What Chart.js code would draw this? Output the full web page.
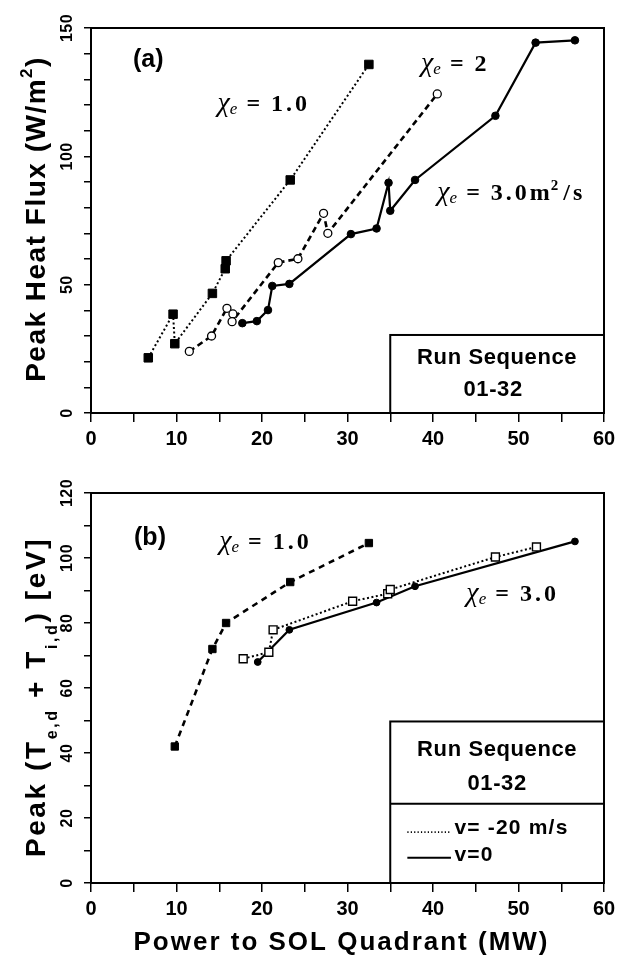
<!DOCTYPE html>
<html lang="en">
<head>
<meta charset="UTF-8">
<title>Peak Heat Flux and Peak Temperature vs Power to SOL Quadrant</title>
<script src="https://cdn.jsdelivr.net/npm/chart.js"></script>
<style>
    body { margin: 0; background: #fff; }
    .panel { position: absolute; left: 0; width: 623px; height: 480px; }
    #panelA { top: 0; }
    #panelB { top: 480px; }
</style>
</head>
<body>
<div class="panel" id="panelA"><canvas id="chartA" width="623" height="480"></canvas></div>
<div class="panel" id="panelB"><canvas id="chartB" width="623" height="480"></canvas></div>

<script>
// ---- panel (a): peak heat flux (W/m2) vs power (MW)
const powerA_chi1 = [6.7, 9.6, 9.8, 14.2, 15.7, 15.8, 23.3, 32.5];
const fluxA_chi1  = [21.5, 38.5, 27, 46.6, 56.2, 59.3, 90.8, 135.8];

const powerA_chi2 = [11.5, 14.1, 15.9, 16.6, 16.5, 21.9, 24.2, 27.2, 27.7, 40.5];
const fluxA_chi2  = [24, 30, 40.8, 38.6, 35.6, 58.6, 60.1, 77.8, 70, 124.3];

const powerA_chi3 = [17.7, 19.4, 20.7, 21.2, 23.2, 30.4, 33.4, 34.8, 35.0, 37.9, 47.3, 52.0, 56.6];
const fluxA_chi3  = [35, 35.8, 40.1, 49.5, 50.3, 69.7, 71.9, 89.7, 78.8, 90.8, 115.8, 144.3, 145.2];

// ---- panel (b): peak (Te,d + Ti,d) [eV] vs power (MW)
const powerB_chi1 = [9.8, 14.2, 15.8, 23.3, 32.5];
const tempB_chi1  = [42, 72, 80, 92.6, 104.6];

const powerB_vm20 = [17.8, 20.8, 21.3, 30.6, 34.7, 35.0, 47.3, 52.1];
const tempB_vm20  = [69, 71, 77.9, 86.7, 89, 90.3, 100.3, 103.4];

const powerB_v0 = [19.5, 23.2, 33.4, 37.9, 56.6];
const tempB_v0  = [68, 77.9, 86.3, 91.3, 105.1];

// tick labels
const xTickLabels  = [0, 10, 20, 30, 40, 50, 60];
const yTickLabelsA = [0, 50, 100, 150];
const yTickLabelsB = [0, 20, 40, 60, 80, 100, 120];

const SANS = '"Liberation Sans", Arial, sans-serif';
const SERIF = '"Liberation Serif", "DejaVu Serif", serif';

function pts(xs, ys) {
    return xs.map((x, i) => ({ x: x, y: ys[i] }));
}

function series(xs, ys, style) {
    return Object.assign({
        data: pts(xs, ys),
        showLine: true,
        borderColor: '#000',
        pointBorderColor: '#000',
        pointBackgroundColor: '#000',
        pointBorderWidth: 1,
        pointHoverRadius: 0
    }, style);
}

// rotated text helper; parts = [[text, size, dy], ...]
function drawRotated(ctx, cx, cy, parts, spacing) {
    ctx.save();
    ctx.translate(cx, cy);
    ctx.rotate(-Math.PI / 2);
    ctx.letterSpacing = spacing + 'px';
    let total = 0;
    parts.forEach(p => {
        ctx.font = 'bold ' + p[1] + 'px ' + SANS;
        total += ctx.measureText(p[0]).width;
    });
    let x = -total / 2;
    ctx.textAlign = 'left';
    ctx.textBaseline = 'alphabetic';
    parts.forEach(p => {
        ctx.font = 'bold ' + p[1] + 'px ' + SANS;
        ctx.fillText(p[0], x, p[2]);
        x += ctx.measureText(p[0]).width;
    });
    ctx.restore();
}

// chi_e = value label, left edge at x, vertically centred on y
function drawChi(ctx, x, y, value, sup, tail) {
    ctx.save();
    ctx.fillStyle = '#000';
    ctx.textAlign = 'left';
    ctx.textBaseline = 'alphabetic';
    const base = y + 8;
    ctx.font = 'italic 28px ' + SERIF;
    ctx.fillText('χ', x, base);
    let cx = x + ctx.measureText('χ').width;
    ctx.font = 'italic 17px ' + SERIF;
    ctx.fillText('e', cx, base + 3);
    cx += ctx.measureText('e').width + 9;
    ctx.letterSpacing = '3px';
    ctx.font = 'bold 24px ' + SERIF;
    ctx.fillText('=', cx, base);
    cx += ctx.measureText('=').width + 8;
    ctx.fillText(value, cx, base);
    cx += ctx.measureText(value).width;
    if (sup) {
        ctx.font = 'bold 15px ' + SERIF;
        ctx.fillText(sup, cx - 2, base - 10);
        cx += ctx.measureText(sup).width;
        ctx.font = 'bold 24px ' + SERIF;
        ctx.fillText(tail, cx, base);
    }
    ctx.restore();
}

function drawBoxText(ctx, text, cx, cy, size, spacing) {
    ctx.save();
    ctx.fillStyle = '#000';
    ctx.font = 'bold ' + size + 'px ' + SANS;
    ctx.letterSpacing = spacing + 'px';
    ctx.textAlign = 'center';
    ctx.textBaseline = 'middle';
    ctx.fillText(text, cx, cy);
    ctx.restore();
}

function makeOptions(yMax, padTop, xHeight) {
    return {
        responsive: false,
        animation: false,
        events: [],
        layout: { padding: { top: padTop, right: 19, left: 0, bottom: 0 } },
        plugins: { legend: { display: false }, tooltip: { enabled: false } },
        scales: {
            x: {
                type: 'linear', min: 0, max: 60,
                afterFit: s => { s.height = xHeight; },
                border: { display: true, color: '#000', width: 2 },
                grid: { drawOnChartArea: false, drawTicks: true, tickLength: 9, color: '#000', lineWidth: 1.5 },
                ticks: {
                    stepSize: 5, autoSkip: false, maxRotation: 0, padding: 5, color: '#000',
                    font: { family: SANS, size: 20, weight: 'bold' },
                    callback: v => xTickLabels.includes(v) ? String(v) : ''
                }
            },
            y: {
                type: 'linear', min: 0, max: yMax,
                afterFit: s => { s.width = 91; },
                border: { display: true, color: '#000', width: 2 },
                grid: { drawOnChartArea: false, drawTicks: true, tickLength: 7, color: '#000', lineWidth: 1.5 },
                ticks: { stepSize: 10, display: false }
            }
        }
    };
}

// panel decorations: frame, rotated y labels, annotations, boxes
function decor(draw) {
    return {
        id: 'decor',
        afterDraw(chart) {
            const ctx = chart.ctx;
            const a = chart.chartArea;
            ctx.save();
            ctx.strokeStyle = '#000';
            ctx.lineWidth = 2;
            ctx.strokeRect(a.left, a.top, a.right - a.left, a.bottom - a.top);
            ctx.restore();
            draw(ctx, chart.scales.x, chart.scales.y, a);
        }
    };
}

const chartA = new Chart(document.getElementById('chartA'), {
    type: 'scatter',
    data: {
        datasets: [
            series(powerA_chi1, fluxA_chi1, { borderWidth: 2, borderDash: [2, 2.5], pointStyle: 'rect', pointRadius: 6 }),
            series(powerA_chi2, fluxA_chi2, { borderWidth: 2.6, borderDash: [6, 4], pointStyle: 'circle', pointRadius: 4, pointBackgroundColor: '#fff', pointBorderWidth: 1.3 }),
            series(powerA_chi3, fluxA_chi3, { borderWidth: 2.2, pointStyle: 'circle', pointRadius: 3.8 })
        ]
    },
    options: makeOptions(150, 28, 67),
    plugins: [decor((ctx, x, y, a) => {
        ctx.fillStyle = '#000';
        yTickLabelsA.forEach(v => drawRotated(ctx, 66, y.getPixelForValue(v), [[String(v), 16, 6]], 0.5));
        drawRotated(ctx, 35, 219, [['Peak Heat Flux (W/m', 28, 10], ['2', 17, -3], [')', 28, 10]], 1.5);

        ctx.save();
        ctx.font = 'bold 25px ' + SANS;
        ctx.textAlign = 'center';
        ctx.textBaseline = 'middle';
        ctx.fillText('(a)', x.getPixelForValue(6.7), y.getPixelForValue(137.5));
        ctx.restore();

        drawChi(ctx, x.getPixelForValue(14.8), y.getPixelForValue(120.8), '1.0');
        drawChi(ctx, x.getPixelForValue(38.6), y.getPixelForValue(136.3), '2');
        drawChi(ctx, x.getPixelForValue(40.5), y.getPixelForValue(86.1), '3.0m', '2', '/s');

        const bx = x.getPixelForValue(35), by = y.getPixelForValue(30.4);
        ctx.save();
        ctx.lineWidth = 2;
        ctx.strokeStyle = '#000';
        ctx.strokeRect(bx, by, a.right - bx, a.bottom - by);
        ctx.restore();
        const mid = (bx + a.right) / 2;
        drawBoxText(ctx, 'Run Sequence', mid, y.getPixelForValue(21.3), 22, 0.6);
        drawBoxText(ctx, '01-32', mid - 4, y.getPixelForValue(9.0), 22, 0.6);
    })]
});

const chartB = new Chart(document.getElementById('chartB'), {
    type: 'scatter',
    data: {
        datasets: [
            series(powerB_chi1, tempB_chi1, { borderWidth: 2.6, borderDash: [6, 5], pointStyle: 'rect', pointRadius: 5.2 }),
            series(powerB_vm20, tempB_vm20, { borderWidth: 2, borderDash: [2, 2.5], pointStyle: 'rect', pointRadius: 5.6, pointBackgroundColor: '#fff', pointBorderWidth: 1.4 }),
            series(powerB_v0, tempB_v0, { borderWidth: 2.2, pointStyle: 'circle', pointRadius: 3.4 })
        ]
    },
    options: makeOptions(120, 13, 77),
    plugins: [decor((ctx, x, y, a) => {
        ctx.fillStyle = '#000';
        yTickLabelsB.forEach(v => drawRotated(ctx, 66, y.getPixelForValue(v), [[String(v), 16, 6]], 0.5));
        drawRotated(ctx, 35, 217, [
            ['Peak (T', 28, 10], ['e,d', 16, 22], [' + T', 28, 10], ['i,d', 16, 22], [') [eV]', 28, 10]
        ], 2.6);

        ctx.save();
        ctx.font = 'bold 25px ' + SANS;
        ctx.textAlign = 'center';
        ctx.textBaseline = 'middle';
        ctx.fillText('(b)', x.getPixelForValue(6.9), y.getPixelForValue(106.2));
        ctx.restore();

        drawChi(ctx, x.getPixelForValue(15.0), y.getPixelForValue(105.1), '1.0');
        drawChi(ctx, x.getPixelForValue(43.9), y.getPixelForValue(89.2), '3.0');

        const bx = x.getPixelForValue(35), by = y.getPixelForValue(49.7);
        const dy = y.getPixelForValue(24.4);
        ctx.save();
        ctx.lineWidth = 2;
        ctx.strokeStyle = '#000';
        ctx.strokeRect(bx, by, a.right - bx, a.bottom - by);
        ctx.beginPath();
        ctx.moveTo(bx, dy);
        ctx.lineTo(a.right, dy);
        ctx.stroke();
        ctx.restore();
        const mid = (bx + a.right) / 2;
        drawBoxText(ctx, 'Run Sequence', mid, y.getPixelForValue(41), 22, 0.6);
        drawBoxText(ctx, '01-32', mid, y.getPixelForValue(30.5), 22, 0.6);

        // legend rows
        const l0 = x.getPixelForValue(37.0), l1 = x.getPixelForValue(42.1);
        const r1 = y.getPixelForValue(16.9), r2 = y.getPixelForValue(8.7);
        ctx.save();
        ctx.strokeStyle = '#000';
        ctx.lineWidth = 1.6;
        ctx.setLineDash([1.2, 2.2]);
        ctx.beginPath(); ctx.moveTo(l0, r1 + 4); ctx.lineTo(l1, r1 + 4); ctx.stroke();
        ctx.setLineDash([]);
        ctx.lineWidth = 2;
        ctx.beginPath(); ctx.moveTo(l0, r2 + 3); ctx.lineTo(l1, r2 + 3); ctx.stroke();
        ctx.font = 'bold 21px ' + SANS;
        ctx.letterSpacing = '1.2px';
        ctx.fillStyle = '#000';
        ctx.textAlign = 'left';
        ctx.textBaseline = 'middle';
        ctx.fillText('v= -20 m/s', x.getPixelForValue(42.5), r1);
        ctx.fillText('v=0', x.getPixelForValue(42.5), r2);
        ctx.restore();

        // x axis title
        ctx.save();
        ctx.font = 'bold 26px ' + SANS;
        ctx.letterSpacing = '2px';
        ctx.fillStyle = '#000';
        ctx.textAlign = 'center';
        ctx.textBaseline = 'middle';
        ctx.fillText('Power to SOL Quadrant (MW)', (a.left + a.right) / 2 - 6, 463);
        ctx.restore();
    })]
});
</script>
</body>
</html>
